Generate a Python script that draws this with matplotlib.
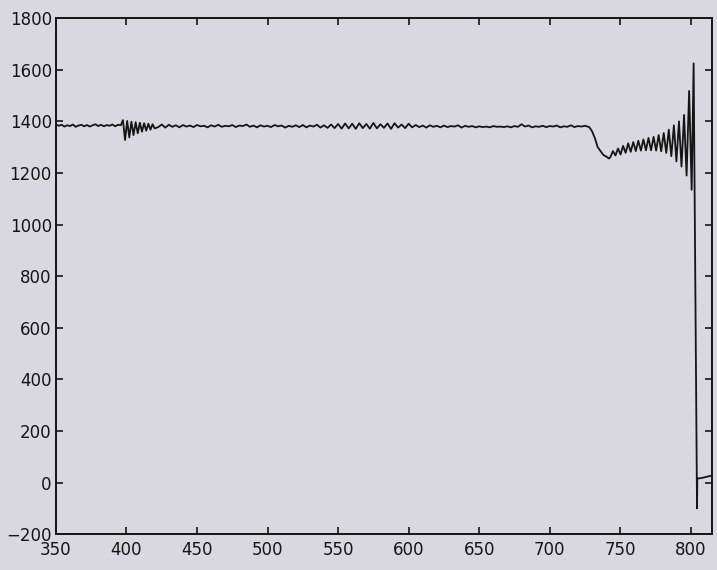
import numpy as np
import matplotlib
matplotlib.use('Agg')
import matplotlib.pyplot as plt

# flat start, before the kick at ~398
y_start = [1388, 1383, 1387, 1380, 1385, 1382, 1388, 1379, 1384, 1387, 1381, 1386,
           1380, 1385, 1389, 1382, 1387, 1381, 1386, 1383, 1388, 1381, 1387, 1385]
x_start = 350 + 2.0 * np.arange(len(y_start))

# kick and decaying ripple
y_kick = [1405, 1328, 1402, 1338, 1399, 1347, 1397, 1354, 1395, 1360, 1393, 1364,
          1391, 1368, 1389, 1373]
x_kick = 397.5 + 1.5 * np.arange(len(y_kick))

# long steady stretch
y_mid = [1378, 1388, 1376, 1387, 1379, 1385, 1377, 1386, 1380, 1384,
         1378, 1386, 1381, 1383, 1377, 1385, 1380, 1387, 1379, 1383,
         1381, 1386, 1378, 1384, 1382, 1388, 1379, 1384, 1377, 1385,
         1380, 1383, 1378, 1386, 1381, 1384, 1376, 1383, 1379, 1385,
         1378, 1386, 1377, 1384, 1380, 1387, 1376, 1385, 1375, 1388,
         1374, 1390, 1372, 1392, 1373, 1391, 1371, 1393, 1374, 1390,
         1372, 1394, 1373, 1389, 1375, 1392, 1371, 1393, 1376, 1388,
         1374, 1391, 1377, 1386, 1378, 1384, 1376, 1385, 1379, 1383,
         1377, 1384, 1378, 1382, 1380, 1385, 1376, 1383, 1379, 1382,
         1377, 1381, 1378, 1380, 1377, 1382, 1379, 1380, 1378, 1381,
         1377, 1382, 1379, 1389, 1380, 1384, 1377, 1381, 1379, 1383,
         1378, 1382, 1380, 1384, 1377, 1381, 1379, 1385, 1378, 1382,
         1380, 1383, 1379]
x_mid = 422.5 + 2.5 * np.arange(len(y_mid))

# step down
x_drop = [728, 730, 732, 734, 736, 738, 740, 742]
y_drop = [1378, 1362, 1335, 1300, 1285, 1270, 1264, 1256]

# growing oscillation
y_osc = [1262, 1285, 1268, 1295, 1272, 1305, 1278, 1315, 1282, 1320,
         1285, 1325, 1287, 1330, 1288, 1336, 1288, 1340, 1287, 1347,
         1284, 1355, 1278, 1368, 1265, 1385, 1245, 1400, 1225, 1425,
         1190, 1518, 1135]
x_osc = 743 + 1.8 * np.arange(len(y_osc))

# blow-up and fall
x_end = [802, 804.4, 804.6, 808, 812, 815]
y_end = [1625, -100, 15, 18, 23, 27]

x = np.concatenate([x_start, x_kick, x_mid, x_drop, x_osc, x_end])
y = np.concatenate([y_start, y_kick, y_mid, y_drop, y_osc, y_end])

bg = '#d9d7e0'
fig = plt.figure(figsize=(7.17, 5.70), dpi=100, facecolor=bg)
ax = fig.add_axes([0.078, 0.063, 0.915, 0.905])
ax.set_facecolor(bg)

ax.plot(x, y, color='#151515', lw=1.3)

ax.set_xlim(350, 815)
ax.set_ylim(-200, 1800)
ax.set_xticks(np.arange(350, 801, 50))
ax.set_yticks(np.arange(-200, 1801, 200))
ax.tick_params(direction='in', length=5, width=1.2, top=True, right=True,
               labelsize=12, colors='#151515', pad=3)
ax.tick_params(axis='x', pad=5)
for s in ax.spines.values():
    s.set_linewidth(1.4)
    s.set_color('#151515')

plt.savefig('out.png', dpi=100, facecolor=bg)
